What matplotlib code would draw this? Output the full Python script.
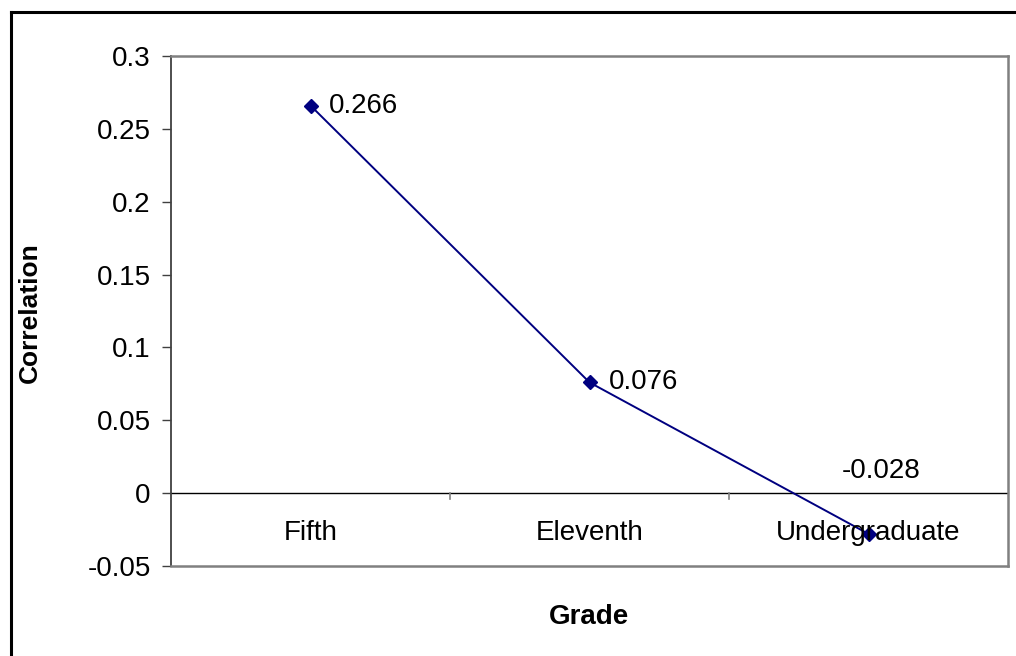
import matplotlib
matplotlib.use('Agg')
import matplotlib.pyplot as plt
from matplotlib.lines import Line2D

plt.rcParams['font.family'] = ['Liberation Sans', 'DejaVu Sans']

grades = ['Fifth', 'Eleventh', 'Undergraduate']
correlation = [0.266, 0.076, -0.028]
labels = ['0.266', '0.076', '-0.028']

fig = plt.figure(figsize=(10.16, 6.56), dpi=100)
# outer chart border (only left and top visible)
fig.add_artist(Line2D([11 / 1016, 11 / 1016], [0, 1 - 12 / 656],
                      transform=fig.transFigure, color='black', linewidth=2.2))
fig.add_artist(Line2D([11 / 1016, 1], [1 - 12 / 656, 1 - 12 / 656],
                      transform=fig.transFigure, color='black', linewidth=2.2))

ax = fig.add_axes([171 / 1016, 90 / 656, 837 / 1016, 510 / 656])
x = list(range(len(grades)))
ax.plot(x, correlation, color='#000080', linewidth=1.4, marker='D',
        markersize=7, zorder=3)

# data labels
ax.annotate(labels[0], (x[0], correlation[0]), xytext=(13, 0),
            textcoords='offset points', va='center', ha='left', fontsize=20)
ax.annotate(labels[1], (x[1], correlation[1]), xytext=(14, 0),
            textcoords='offset points', va='center', ha='left', fontsize=20)
ax.annotate(labels[2], (x[2], correlation[2]), xytext=(9, 45),
            textcoords='offset points', va='center', ha='center', fontsize=20)

ax.set_xlim(-0.5, 2.5)
ax.set_ylim(-0.05, 0.3)
ax.set_yticks([-0.05, 0, 0.05, 0.1, 0.15, 0.2, 0.25, 0.3])
ax.set_yticklabels(['-0.05', '0', '0.05', '0.1', '0.15', '0.2', '0.25', '0.3'])
ax.tick_params(axis='y', direction='out', length=6.5, width=1, labelsize=20,
               pad=8, color='#404040')

# category axis drawn on the zero line
ax.axhline(0, color='black', linewidth=1, zorder=2)
ax.set_xticks([])
for b in [0.5, 1.5]:
    ax.plot([b, b], [0, -0.004], color='#808080', linewidth=1.2,
            clip_on=False, zorder=2)
for xi, g in zip(x, grades):
    ax.text(xi, -0.0275, g, ha='center', va='center', fontsize=20)

for s in ['top', 'right', 'bottom']:
    ax.spines[s].set_color('#808080')
    ax.spines[s].set_linewidth(1.8)
ax.spines['left'].set_color('#404040')
ax.spines['left'].set_linewidth(1.3)

fig.text(589 / 1016, 1 - 617 / 656, 'Grade', ha='center', va='center',
         fontsize=20, fontweight='bold')
fig.text(30 / 1016, 1 - 313 / 656, 'Correlation', ha='center', va='center',
         fontsize=19, fontweight='bold', rotation=90)

fig.savefig('out.png', dpi=100)
